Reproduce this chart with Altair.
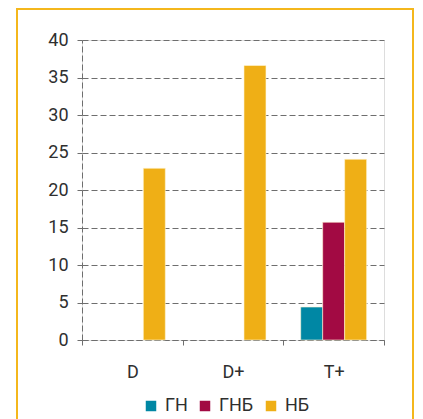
import altair as alt
import pandas as pd

categories = ["D", "D+", "T+"]
series = ["ГН", "ГНБ", "НБ"]
values_gn = [0, 0, 4.4]
values_gnb = [0, 0, 15.7]
values_nb = [22.9, 36.6, 24.1]
colors = ["#0087A4", "#A20A43", "#EFAF16"]

rows = []
for i, c in enumerate(categories):
    for s, vals in zip(series, [values_gn, values_gnb, values_nb]):
        rows.append({"cat": c, "series": s, "value": vals[i]})
df = pd.DataFrame(rows)

FONT = "Roboto"
GRID = "#6e6e6e"
TEXT = "#2f2f2f"

bars = alt.Chart(df).transform_filter("datum.value > 0").mark_bar(
    stroke="#fff6d6", strokeWidth=0.6
).encode(
    x=alt.X("cat:N", sort=categories, title=None,
            scale=alt.Scale(paddingInner=0, paddingOuter=0),
            axis=alt.Axis(labelAngle=0, tickBand="extent", tickSize=5,
                          tickColor=GRID, domainColor=GRID, domainDash=[6, 3],
                          tickDash=[6, 3], labelFont=FONT, labelFontSize=18,
                          labelColor=TEXT, labelPadding=18, grid=False)),
    xOffset=alt.XOffset("series:N", sort=series,
                        scale=alt.Scale(paddingInner=0, paddingOuter=0.79)),
    y=alt.Y("value:Q", title=None,
            scale=alt.Scale(domain=[0, 40]),
            axis=alt.Axis(values=[0, 5, 10, 15, 20, 25, 30, 35, 40],
                          tickSize=5, tickColor=GRID, domainColor=GRID,
                          domainDash=[6, 3], gridColor=GRID, gridDash=[6, 3],
                          gridWidth=1, gridOpacity=1, labelFont=FONT,
                          labelFontSize=18, labelColor=TEXT,
                          labelPadding=9)),
    color=alt.Color("series:N", sort=series,
                    scale=alt.Scale(domain=series, range=colors),
                    legend=alt.Legend(title=None, orient="none",
                                      direction="horizontal",
                                      legendX=60, legendY=357,
                                      symbolType="square", symbolSize=110,
                                      symbolStrokeWidth=0,
                                      labelFont=FONT, labelFontSize=18,
                                      labelColor=TEXT, labelOffset=5,
                                      columnPadding=8)),
)

border = alt.Chart(pd.DataFrame({"a": [0]})).mark_rect(
    fill=None, stroke="#F4B71C", strokeWidth=2
).encode(
    x=alt.value(-65), x2=alt.value(331),
    y=alt.value(-31), y2=alt.value(385)
)

chart = alt.layer(border, bars).properties(
    width=302, height=300,
    padding={"left": 8, "top": 0, "right": 0, "bottom": 0}
).configure_view(stroke=None).configure(background="white")

chart.save("out.html", embed_options={"renderer": "svg", "actions": False})
